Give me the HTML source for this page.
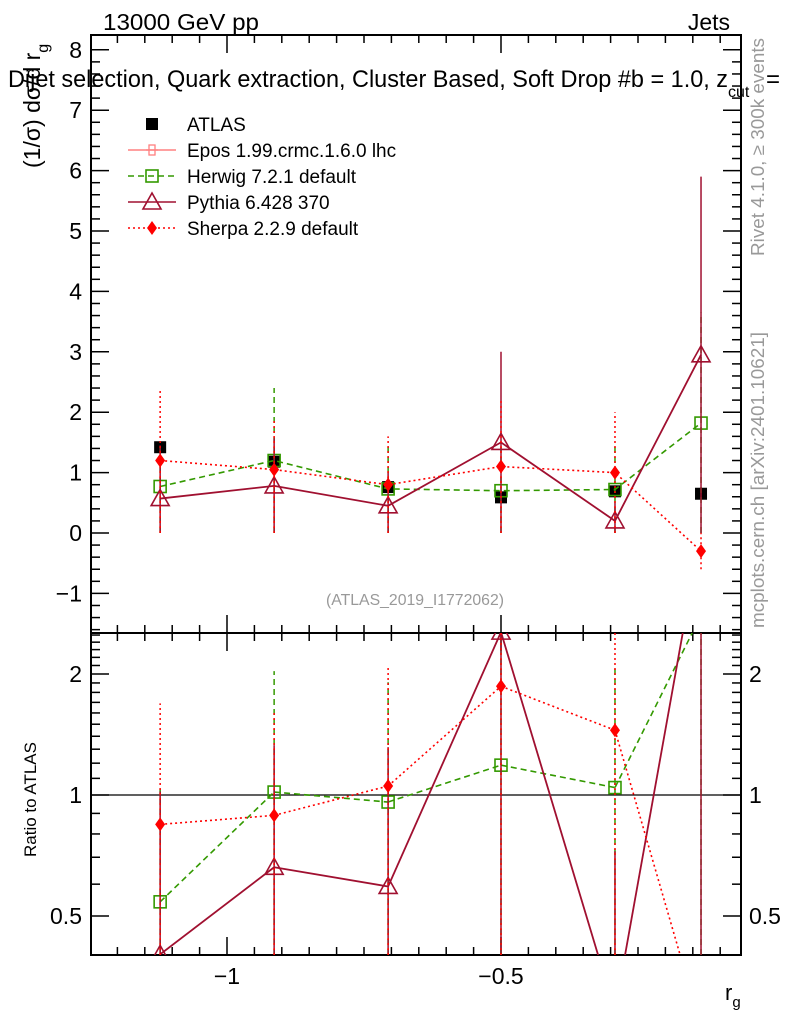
<!DOCTYPE html>
<html><head><meta charset="utf-8"><style>
html,body{margin:0;padding:0;background:#fff;overflow:hidden}
svg{display:block;font-family:"Liberation Sans",sans-serif}
</style></head><body>
<svg id="chart" width="786" height="1024" viewBox="0 0 786 1024" xmlns="http://www.w3.org/2000/svg">
<defs>
<clipPath id="cm"><rect x="91" y="35" width="650" height="598"/></clipPath>
<clipPath id="cr"><rect x="91" y="633" width="650" height="322"/></clipPath>
</defs>
<g id="axes"></g>
<g id="marks"></g>
<text x="103" y="30" font-size="23" textLength="156" lengthAdjust="spacingAndGlyphs">13000 GeV pp</text>
<text x="730" y="30" font-size="23" text-anchor="end">Jets</text>
<text x="8" y="87" font-size="24"><tspan textLength="720" lengthAdjust="spacingAndGlyphs">Dijet selection, Quark extraction, Cluster Based, Soft Drop #b = 1.0, z</tspan><tspan font-size="16" dy="10">cut</tspan><tspan dy="-10" dx="10"> =</tspan></text>
<text transform="translate(40,168) rotate(-90)" font-size="23">(1/σ) dσ/d r<tspan font-size="16" dy="8">g</tspan></text>
<text transform="translate(36,857) rotate(-90)" font-size="17">Ratio to ATLAS</text>
<text x="725" y="1000" font-size="22">r<tspan font-size="15" dy="7">g</tspan></text>
<text transform="translate(764,256) rotate(-90)" font-size="18" fill="#999" textLength="218" lengthAdjust="spacingAndGlyphs">Rivet 4.1.0, ≥ 300k events</text>
<text transform="translate(764,628) rotate(-90)" font-size="18" fill="#999" textLength="296" lengthAdjust="spacingAndGlyphs">mcplots.cern.ch [arXiv:2401.10621]</text>
<text x="415" y="605" font-size="16" fill="#999" text-anchor="middle" textLength="178" lengthAdjust="spacingAndGlyphs">(ATLAS_2019_I1772062)</text>
<g id="legend"></g>
</svg>
<script>
const xCenters=[-1.122,-0.914,-0.706,-0.5,-0.292,-0.135];
const atlas=[1.42,1.18,0.76,0.59,0.69,0.65];
const atlasErr=[0.05,0.05,0.05,0.05,0.05,0.05];
const herwig=[0.77,1.2,0.73,0.7,0.72,1.82];
const herwigLo=[0,0,0,0,0,0];
const herwigHi=[1.5,2.4,1.45,1.5,1.45,3.65];
const pythia=[0.57,0.78,0.45,1.5,0.2,2.95];
const pythiaLo=[0,0,0,0,0,0];
const pythiaHi=[1.45,1.57,1.0,3.0,0.5,5.9];
const sherpa=[1.2,1.05,0.8,1.1,1.0,-0.3];
const sherpaLo=[0,0,0,0,0,-0.6];
const sherpaHi=[2.4,1.9,1.6,2.2,2.0,0];
const mainTicks=[-1,0,1,2,3,4,5,6,7,8];
const ratioTicks=[0.5,1,2];
const xTicks=[-1,-0.5];

const NS="http://www.w3.org/2000/svg";
const L=91,R=741,MT=35,MB=633,RT=633,RB=955;
const xs=v=>227+(v+1)*548;
const ym=v=>533-v*60.4;
const yr=v=>795-Math.log2(v)*121;
function mk(tag,attrs,parent){const e=document.createElementNS(NS,tag);for(const k in attrs)e.setAttribute(k,attrs[k]);parent.appendChild(e);return e;}
const axes=document.getElementById('axes'),marks=document.getElementById('marks'),leg=document.getElementById('legend');
// clip a segment to y range [t,b]; returns null or [x1,y1,x2,y2]
function clipSeg(x1,y1,x2,y2,t,b){
 if((y1<t&&y2<t)||(y1>b&&y2>b))return null;
 const p=(y)=>x1+(x2-x1)*(y-y1)/(y2-y1);
 let a=[x1,y1],c=[x2,y2];
 if(y1<t)a=[p(t),t]; if(y1>b)a=[p(b),b];
 if(y2<t)c=[p(t),t]; if(y2>b)c=[p(b),b];
 return [a[0],a[1],c[0],c[1]];
}
const cy=(y,t,b)=>Math.max(t,Math.min(b,y));

let f=mk('rect',{x:L,y:MT,width:R-L,height:MB-MT,fill:'none',stroke:'#000','stroke-width':2},axes);


f=mk('rect',{x:L,y:RT,width:R-L,height:RB-RT,fill:'none',stroke:'#000','stroke-width':2},axes);


for(let v=-1.25;v<=-0.06;v+=0.05){const x=xs(v);if(x<L+1||x>R-1)continue;const maj=xTicks.some(t=>Math.abs(t-v)<1e-6);const h=maj?18:8;
 [[MB,-1],[MT,1],[RB,-1],[RT,1]].forEach(([y,d])=>mk('line',{x1:x,x2:x,y1:y,y2:y+d*h,stroke:'#000','stroke-width':1.5},axes));}
xTicks.forEach(v=>{const t=mk('text',{x:xs(v),y:984,'font-size':23,'text-anchor':'middle'},axes);t.textContent=v===-1?'−1':'−0.5';

});
for(let v=-1.6;v<=8.2;v+=0.2){const y=ym(v);if(y<MT+1||y>MB-1)continue;const maj=Math.abs(v-Math.round(v))<1e-6;const h=maj?18:9;
 mk('line',{x1:L,x2:L+h,y1:y,y2:y,stroke:'#000','stroke-width':1.5},axes);mk('line',{x1:R,x2:R-h,y1:y,y2:y,stroke:'#000','stroke-width':1.5},axes);}
mainTicks.forEach(v=>{const t=mk('text',{x:82,y:ym(v)+8,'font-size':23,'text-anchor':'end'},axes);t.textContent=v<0?'−'+(-v):String(v);

});
[0.5,0.6,0.7,0.8,0.9,1,1.1,1.2,1.3,1.4,1.5,1.6,1.7,1.8,1.9,2,2.1,2.2,2.3,2.4,2.5].forEach(v=>{const y=yr(v);if(y<RT+1||y>RB-1)return;const maj=ratioTicks.includes(v);const h=maj?18:9;
 mk('line',{x1:L,x2:L+h,y1:y,y2:y,stroke:'#000','stroke-width':1.5},axes);mk('line',{x1:R,x2:R-h,y1:y,y2:y,stroke:'#000','stroke-width':1.5},axes);});
ratioTicks.forEach(v=>{const t=mk('text',{x:82,y:yr(v)+8,'font-size':23,'text-anchor':'end'},axes);t.textContent=String(v);


const t2=mk('text',{x:749,y:yr(v)+8,'font-size':23},axes);t2.textContent=String(v);

});
mk('line',{x1:L,x2:R,y1:yr(1),y2:yr(1),stroke:'#000','stroke-width':1.2},axes);

const gm=mk('g',{'clip-path':'url(#cm)'},marks),gr=mk('g',{'clip-path':'url(#cr)'},marks);
function marker(type,x,y,col,g){
 if(type==='sq')return mk('rect',{x:x-6,y:y-6,width:12,height:12,fill:'none',stroke:col,'stroke-width':1.6},g);
 if(type==='tri')return mk('polygon',{points:`${x},${y-9} ${x-9},${y+7} ${x+9},${y+7}`,fill:'none',stroke:col,'stroke-width':1.6},g);
 if(type==='dia')return mk('polygon',{points:`${x},${y-7} ${x-5},${y} ${x},${y+7} ${x+5},${y}`,fill:col},g);
 if(type==='fsq')return mk('rect',{x:x-6,y:y-6,width:12,height:12,fill:'#000'},g);
}
const series=[
 {name:'herwig',col:'#339900',dash:'6,4',w:1.6,m:'sq',v:herwig,lo:herwigLo,hi:herwigHi},
 {name:'pythia',col:'#a01030',dash:'',w:1.8,m:'tri',v:pythia,lo:pythiaLo,hi:pythiaHi},
 {name:'sherpa',col:'#ff0000',dash:'2,3',w:1.6,m:'dia',v:sherpa,lo:sherpaLo,hi:sherpaHi}];
xCenters.forEach((x,i)=>{
 const e=mk('line',{x1:xs(x),x2:xs(x),y1:ym(atlas[i]-atlasErr[i]),y2:ym(atlas[i]+atlasErr[i]),stroke:'#000','stroke-width':1.5},gm);
 
 
 const m=marker('fsq',xs(x),ym(atlas[i]),'#000',gm);
 
 
});
series.forEach(s=>{
 const pts=xCenters.map((x,i)=>`${xs(x)},${ym(s.v[i])}`).join(' ');
 let pl=mk('polyline',{points:pts,fill:'none',stroke:s.col,'stroke-width':s.w,'stroke-dasharray':s.dash},gm);
 
 
 xCenters.forEach((x,i)=>{
  const e=mk('line',{x1:xs(x),x2:xs(x),y1:ym(s.lo[i]),y2:ym(s.hi[i]),stroke:s.col,'stroke-width':1.5,'stroke-dasharray':s.dash},gm);
  
  
  const m=marker(s.m,xs(x),ym(s.v[i]),s.col,gm);
  
  
 });
 // ratio: segments clipped manually
 const rpts=xCenters.map((x,i)=>{const r=s.v[i]/atlas[i];return [xs(x),r>0?yr(r):RB+72];});
 for(let i=0;i<rpts.length-1;i++){
  const c=clipSeg(rpts[i][0],rpts[i][1],rpts[i+1][0],rpts[i+1][1],RT,RB);
  if(!c)continue;
  const sg=mk('line',{x1:c[0],y1:c[1],x2:c[2],y2:c[3],stroke:s.col,'stroke-width':s.w,'stroke-dasharray':s.dash},gr);
  
  
 }
 xCenters.forEach((x,i)=>{const r=s.v[i]/atlas[i];const lo=s.lo[i]/atlas[i],hi=s.hi[i]/atlas[i];
  const y1=cy(lo>0?yr(lo):RB,RT,RB),y2=cy(hi>0?yr(hi):RB,RT,RB);
  if(y1!==y2){
  const e=mk('line',{x1:xs(x),x2:xs(x),y1:y1,y2:y2,stroke:s.col,'stroke-width':1.5,'stroke-dasharray':s.dash},gr);
  
  }
  if(r>0&&yr(r)<RB+8&&yr(r)>RT-8){const m=marker(s.m,xs(x),yr(r),s.col,gr);
  
  }
 });
});
const legItems=[['ATLAS','#000','','fsq'],['Epos 1.99.crmc.1.6.0 lhc','#ff8080','','cross'],['Herwig 7.2.1 default','#339900','6,4','sq'],['Pythia 6.428 370','#a01030','','tri'],['Sherpa 2.2.9 default','#ff0000','2,3','dia']];
legItems.forEach((it,i)=>{const y=124+i*26;const g=mk('g',{},leg);
 
 
 if(i>0)mk('line',{x1:128,x2:176,y1:y,y2:y,stroke:it[1],'stroke-width':1.6,'stroke-dasharray':it[2]},g);
 if(it[3]==='cross'){mk('rect',{x:149,y:y-5,width:6,height:10,fill:'none',stroke:it[1],'stroke-width':1.3},g);mk('line',{x1:146,x2:158,y1:y,y2:y,stroke:it[1],'stroke-width':1.3},g);}
 else marker(it[3],152,y,it[1],g);
 const t=mk('text',{x:187,y:y+7,'font-size':19},g);t.textContent=it[0];});
</script>
</body></html>
